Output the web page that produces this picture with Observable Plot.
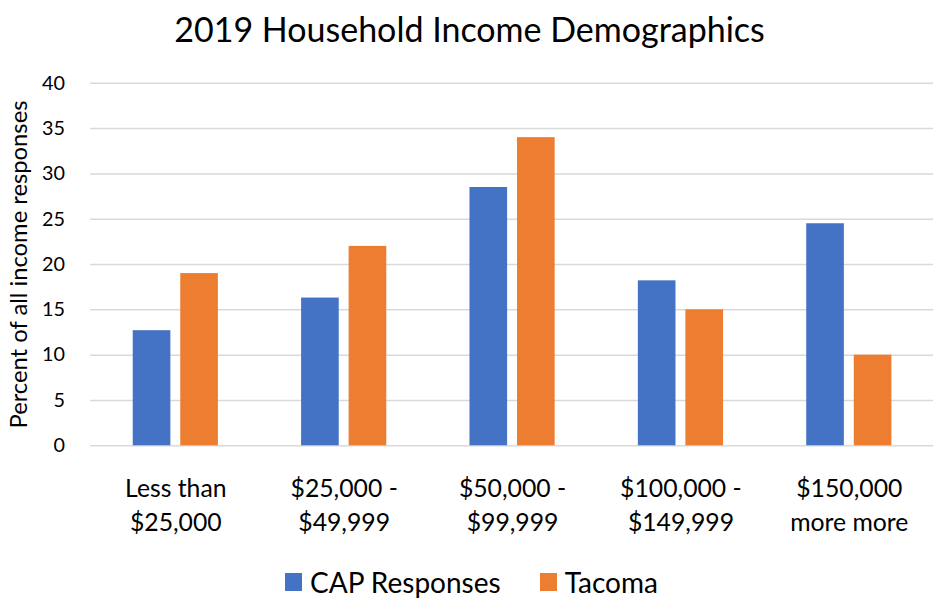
<!DOCTYPE html>
<html>
<head>
<meta charset="utf-8">
<script src="https://cdn.jsdelivr.net/npm/d3@7"></script>
<script src="https://cdn.jsdelivr.net/npm/@observablehq/plot@0.6"></script>
<style>
  html, body { margin: 0; padding: 0; background: #fff; width: 933px; height: 599px; overflow: hidden; font-family: Lato, "Open Sans", sans-serif; color: #000; }
  #title { height: 60px; line-height: 58px; text-align: center; font-size: 34px; padding-left: 6px; }
  #chart { width: 933px; height: 490px; overflow: hidden; }
  #legend { position: absolute; left: 285px; top: 565px; display: flex; align-items: center; font-size: 28px; }
  #legend .sw { width: 17px; height: 18px; display: inline-block; margin-right: 8px; }
  #legend .item { display: flex; align-items: center; margin-right: 39px; }
</style>
</head>
<body>
<div id="title">2019 Household Income Demographics</div>
<div id="chart"></div>
<div id="legend"></div>
<script>
// Household income brackets and the share of responses in each
const categories = ["Less than\n$25,000", "$25,000 -\n$49,999", "$50,000 -\n$99,999", "$100,000 -\n$149,999", "$150,000\nmore more"];
const series = ["CAP Responses", "Tacoma"];
const capValues = [12.7, 16.3, 28.5, 18.2, 24.5];
const tacomaValues = [19, 22, 34, 15, 10];
const yTicks = [0, 5, 10, 15, 20, 25, 30, 35, 40];
const colors = ["#4472C4", "#ED7D31"];

const capRows = categories.map((c, i) => ({category: c, series: series[0], value: capValues[i]}));
const tacomaRows = categories.map((c, i) => ({category: c, series: series[1], value: tacomaValues[i]}));

const chart = Plot.plot({
  width: 942,
  height: 490,
  marginLeft: 91,
  marginRight: 0,
  marginTop: 23,
  marginBottom: 101,
  style: {fontFamily: "Lato, 'Open Sans', sans-serif", color: "#000", background: "#fff"},
  x: {domain: categories, padding: 0, label: null, axis: null},
  y: {domain: [0, 40], axis: null},
  color: {domain: series, range: colors},
  marks: [
    Plot.ruleY(yTicks, {stroke: "#d9d9d9", strokeWidth: 1.5}),
    // paired bars inside each income band
    Plot.barY(capRows, {x: "category", y: "value", fill: "series", insetLeft: 42, insetRight: 90}),
    Plot.barY(tacomaRows, {x: "category", y: "value", fill: "series", insetLeft: 90, insetRight: 42}),
    Plot.axisY({ticks: yTicks, tickSize: 0, tickPadding: 26, fontSize: 20, label: null}),
    Plot.axisX({tickSize: 0, tickPadding: 27, fontSize: 25, lineHeight: 1.38, label: null}),
    Plot.text(["Percent of all income responses"], {frameAnchor: "left", textAnchor: "middle", dx: -72, rotate: -90, fontSize: 24})
  ]
});
document.getElementById("chart").append(chart);

const legend = document.getElementById("legend");
series.forEach((s, i) => {
  const item = document.createElement("div");
  item.className = "item";
  const sw = document.createElement("span");
  sw.className = "sw";
  sw.style.background = colors[i];
  const label = document.createElement("span");
  label.textContent = s;
  item.append(sw, label);
  legend.append(item);
});
</script>
</body>
</html>
